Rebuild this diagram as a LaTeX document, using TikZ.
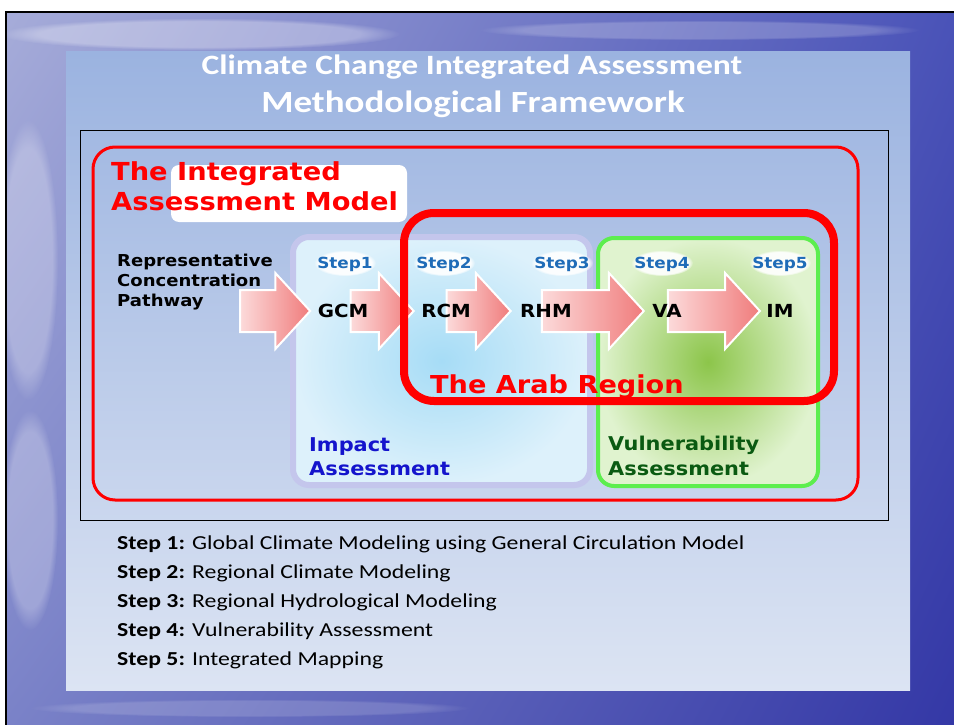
\documentclass[tikz,border=0pt]{standalone}
\usepackage{fontspec}
\setmainfont[FakeStretch=1.2]{Carlito}
\newfontfamily\verd[FakeStretch=1.1]{DejaVu Sans}
\usetikzlibrary{shapes.arrows,shapes.geometric,positioning,fadings,shadings}

\definecolor{skyul}{HTML}{A6ACD9}
\definecolor{skyur}{HTML}{4A53B8}
\definecolor{skyll}{HTML}{7A82C8}
\definecolor{skylr}{HTML}{3438A6}
\definecolor{paneltop}{HTML}{9BB3E0}
\definecolor{panelbot}{HTML}{DCE4F3}
\definecolor{stepblue}{HTML}{1F6CB8}
\definecolor{impactin}{HTML}{A6DCF6}
\definecolor{impactout}{HTML}{DDF1FB}
\definecolor{impactrim}{HTML}{C4C6EC}
\definecolor{vulnin}{HTML}{8CC54A}
\definecolor{vulnout}{HTML}{E0F3CF}
\definecolor{vulnrim}{HTML}{5CEE4E}
\definecolor{arrowlight}{HTML}{FCDADA}
\definecolor{arrowdark}{HTML}{F07C7C}
\definecolor{iamred}{HTML}{FF0000}
\definecolor{impacttext}{HTML}{1414CC}
\definecolor{vulntext}{HTML}{0A5A12}

\pgfdeclarelayer{back}
\pgfdeclarelayer{mid}
\pgfsetlayers{back,mid,main}

\tikzset{
  steplabel/.style={font=\verd\bfseries\fontsize{15.3}{17}\selectfont, text=stepblue, inner sep=0pt, anchor=base},
  stepglow/.style={ellipse, fill=white, opacity=.9, path fading=circle with fuzzy edge 15 percent,
    minimum width=62pt, minimum height=26pt},
  model/.style={font=\verd\bfseries\fontsize{18}{20}\selectfont, inner sep=0pt},
  blockarrow/.style={single arrow, draw=white, line width=2pt, left color=arrowlight, right color=arrowdark,
    single arrow head extend=17pt, single arrow tip angle=95, inner xsep=0pt, inner ysep=20pt,
    minimum width=74pt, anchor=tip},
  bigred/.style={draw=iamred, line width=3pt, rounded corners=22pt},
  arabred/.style={draw=iamred, line width=8pt, rounded corners=30pt},
  cloud/.style={fill=white, path fading=circle with fuzzy edge 20 percent},
}

\begin{document}
\begin{tikzpicture}[x=1pt,y=-1pt]
\useasboundingbox (0,0) rectangle (954,725);

\begin{pgfonlayer}{back}
% slide background
\fill[white] (0,0) rectangle (954,725);
\begin{scope}
\clip (6,12) rectangle (954,725);
\shade[upper left=skyul, upper right=skyur, lower left=skyll, lower right=skylr] (6,12) rectangle (954,725);
\fill[cloud, opacity=.3] (200,34) ellipse (200 and 16);
\fill[cloud, opacity=.2] (700,30) ellipse (220 and 10);
\fill[cloud, opacity=.25] (28,260) ellipse (30 and 140);
\fill[cloud, opacity=.25] (30,520) ellipse (28 and 110);
\fill[cloud, opacity=.15] (250,708) ellipse (220 and 9);
\end{scope}
\draw[line width=2pt] (6,725) -- (6,12) -- (954,12);

% panel
\shade[top color=paneltop, bottom color=panelbot] (66,52) rectangle (910,690);
\draw[line width=1pt] (80,130) rectangle (888,520);

% integrated assessment model
\draw[bigred] (93,147) rectangle (858,500);
\shade[shading=radial, inner color=impactin, outer color=impactout, draw=impactrim, line width=6pt, rounded corners=16pt]
  (293,237) rectangle (590,485);
\shade[shading=radial, inner color=vulnin, outer color=vulnout, draw=vulnrim, line width=4pt, rounded corners=16pt]
  (598,238) rectangle (818,486);
\fill[white, rounded corners=8pt] (171,165) rectangle (407,222);
\end{pgfonlayer}

\node[anchor=base, font=\bfseries\fontsize{28}{32}\selectfont, text=white] (title) at (472,75) {Climate Change Integrated Assessment};
\node[anchor=base, font=\bfseries\fontsize{30.8}{36}\selectfont, text=white] (subtitle) at (473,113) {Methodological Framework};

\node[anchor=north west, align=left, inner sep=0pt, text=iamred,
  font=\verd\bfseries\fontsize{24.8}{30.5}\selectfont] (iam) at (111,161) {The Integrated\\Assessment Model};

% chain
\node[anchor=north west, align=left, inner sep=0pt,
  font=\verd\bfseries\fontsize{16.4}{20}\selectfont] (rcp) at (117,254) {Representative\\Concentration\\Pathway};
\node[model] (gcm) at (343,311) {GCM};
\node[model] (rcm) at (446,311) {RCM};
\node[model] (rhm) at (546,311) {RHM};
\node[model] (va) at (667,311) {VA};
\node[model] (im) at (780,311) {IM};

\begin{pgfonlayer}{mid}
\node[blockarrow, minimum height=70pt] (a1) at ([xshift=-6pt]gcm.west) {};
\node[blockarrow, minimum height=63pt] (a2) at ([xshift=-6pt]rcm.west) {};
\node[blockarrow, minimum height=64pt] (a3) at ([xshift=-8pt]rhm.west) {};
\node[blockarrow, minimum height=102pt] (a4) at ([xshift=-7pt]va.west) {};
\node[blockarrow, minimum height=92pt] (a5) at ([xshift=-5pt]im.west) {};
\end{pgfonlayer}

\foreach \x/\i in {345/1,444/2,562/3,662/4,780/5}{
  \node[stepglow] at (\x,263) {};
  \node[steplabel] (step\i) at (\x,268) {Step\i};
}

% the arab region
\draw[arabred] (404,213) rectangle (834,401);
\node[anchor=base west, inner sep=0pt, text=iamred,
  font=\verd\bfseries\fontsize{24.7}{30}\selectfont] (arab) at (430,393) {The Arab Region};

\node[anchor=north west, align=left, inner sep=0pt, text=impacttext,
  font=\verd\bfseries\fontsize{19}{24.5}\selectfont] (impact) at (309,437) {Impact\\Assessment};
\node[anchor=north west, align=left, inner sep=0pt, text=vulntext,
  font=\verd\bfseries\fontsize{19}{24.5}\selectfont] (vuln) at (608,436) {Vulnerability\\Assessment};

% steps
\node[anchor=north west, align=left, inner sep=0pt, text=black,
  font=\fontsize{19.8}{29}\selectfont] (legend) at (117,536)
  {\textbf{Step 1:} Global Climate Modeling using General Circulation Model\\
   \textbf{Step 2:} Regional Climate Modeling\\
   \textbf{Step 3:} Regional Hydrological Modeling\\
   \textbf{Step 4:} Vulnerability Assessment\\
   \textbf{Step 5:} Integrated Mapping};

\end{tikzpicture}
\end{document}
